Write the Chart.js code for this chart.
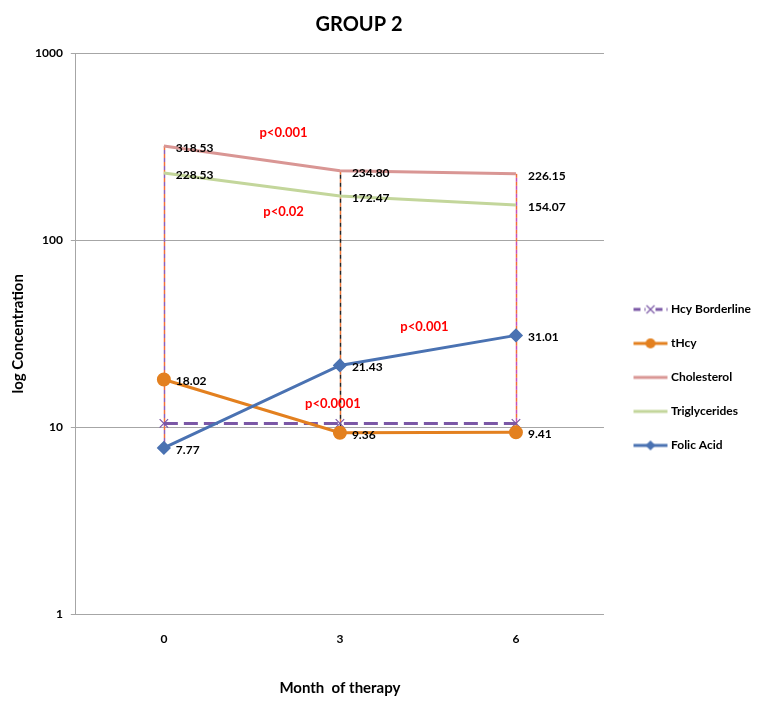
<!DOCTYPE html>
<html>
<head>
<meta charset="utf-8">
<script src="https://cdn.jsdelivr.net/npm/chart.js@4.4.1/dist/chart.umd.min.js"></script>
<style>
  html, body { margin: 0; padding: 0; background: #ffffff; }
  #wrap { width: 772px; height: 712px; }
</style>
</head>
<body>
<div id="wrap"><canvas id="grafica" width="772" height="712"></canvas></div>
<script>
// datos
const meses = ['0', '3', '6'];
const hcyBorderline = [10.5, 10.5, 10.5];
const tHcy = [18.02, 9.36, 9.41];
const colesterol = [318.53, 234.80, 226.15];
const trigliceridos = [228.53, 172.47, 154.07];
const acidoFolico = [7.77, 21.43, 31.01];
const ticksY = [1, 10, 100, 1000];

// notas de significancia (en coordenadas de los datos)
const notasTexto = ['p<0.001', 'p<0.02', 'p<0.0001', 'p<0.001'];
const notasMes = [0.68, 0.68, 0.96, 1.48];
const notasValor = [373, 141, 13.3, 34.3];

const FUENTE = 'Lato, "Open Sans", sans-serif';

// muestra de linea + marcador para la leyenda
// (lienzo de 46px, la linea ocupa de 11 a 45 porque se dibuja centrado en la caja de 39px)
function muestraLeyenda(color, dash, marcador) {
  const c = document.createElement('canvas');
  c.width = 46;
  c.height = 14;
  const g = c.getContext('2d');
  const x0 = 11, x1 = 45, cx = 28;
  g.strokeStyle = color;
  g.lineWidth = 3;
  g.setLineDash(dash);
  g.beginPath();
  g.moveTo(x0, 7);
  g.lineTo(x1, 7);
  g.stroke();
  g.setLineDash([]);
  g.fillStyle = color;
  if (marcador === 'circle') {
    g.beginPath();
    g.arc(cx, 7, 5, 0, Math.PI * 2);
    g.fill();
  } else if (marcador === 'rectRot') {
    g.beginPath();
    g.moveTo(cx, 2); g.lineTo(cx + 5, 7); g.lineTo(cx, 12); g.lineTo(cx - 5, 7);
    g.closePath();
    g.fill();
  } else if (marcador === 'crossRot') {
    g.clearRect(cx - 5, 0, 10, 14);
    g.lineWidth = 1.2;
    g.beginPath();
    g.moveTo(cx - 4, 3); g.lineTo(cx + 4, 11);
    g.moveTo(cx + 4, 3); g.lineTo(cx - 4, 11);
    g.stroke();
  }
  return c;
}

const lineasCaida = {
  id: 'lineasCaida',
  beforeDatasetsDraw(chart) {
    const { ctx, scales: { x, y } } = chart;
    const colores1 = ['#f0703c', '#f07838', '#f07038'];
    const colores2 = ['#9060b8', '#222222', '#c850b8'];
    meses.forEach((m, i) => {
      const vals = chart.data.datasets.map(d => d.data[i]);
      const px = Math.round(x.getPixelForValue(i)) + 0.5;
      const yTop = y.getPixelForValue(Math.max(...vals));
      const yBot = y.getPixelForValue(Math.min(...vals));
      ctx.save();
      ctx.lineWidth = 1.5;
      ctx.setLineDash([4, 4]);
      ctx.strokeStyle = colores1[i];
      ctx.beginPath();
      ctx.moveTo(px, yTop);
      ctx.lineTo(px, yBot);
      ctx.stroke();
      ctx.lineDashOffset = 4;
      ctx.strokeStyle = colores2[i];
      ctx.beginPath();
      ctx.moveTo(px, yTop);
      ctx.lineTo(px, yBot);
      ctx.stroke();
      ctx.restore();
    });
  }
};

const etiquetas = {
  id: 'etiquetas',
  afterDatasetsDraw(chart) {
    const { ctx, scales: { x, y } } = chart;
    ctx.save();
    ctx.font = 'bold 12px ' + FUENTE;
    ctx.fillStyle = '#000000';
    ctx.textAlign = 'left';
    ctx.textBaseline = 'middle';
    chart.data.datasets.forEach((ds, di) => {
      if (!ds.conEtiquetas) return;
      chart.getDatasetMeta(di).data.forEach((pt, i) => {
        ctx.fillText(ds.data[i].toFixed(2), pt.x + 12, pt.y + 2);
      });
    });
    // notas p
    ctx.font = 'bold 13px ' + FUENTE;
    ctx.fillStyle = '#ff0000';
    ctx.textAlign = 'center';
    notasTexto.forEach((t, i) => {
      ctx.fillText(t, x.getPixelForValue(notasMes[i]), y.getPixelForValue(notasValor[i]));
    });
    // titulo
    ctx.font = 'bold 20px ' + FUENTE;
    ctx.fillStyle = '#000000';
    ctx.fillText('GROUP 2', 359, 25);
    ctx.restore();
  }
};

const ctx = document.getElementById('grafica').getContext('2d');
new Chart(ctx, {
  type: 'line',
  data: {
    labels: meses,
    datasets: [
      {
        label: 'Hcy Borderline',
        data: hcyBorderline,
        borderColor: '#7b58a6',
        backgroundColor: '#7b58a6',
        borderWidth: 3,
        borderDash: [14, 6],
        pointStyle: 'crossRot',
        pointRadius: 6,
        pointBorderWidth: 1.2,
        order: 4,
        muestra: muestraLeyenda('#7b58a6', [7, 4], 'crossRot')
      },
      {
        label: 'tHcy',
        data: tHcy,
        borderColor: '#e3801f',
        backgroundColor: '#e3801f',
        borderWidth: 3,
        pointStyle: 'circle',
        pointRadius: 5.5,
        order: 3,
        conEtiquetas: true,
        muestra: muestraLeyenda('#e3801f', [], 'circle')
      },
      {
        label: 'Cholesterol',
        data: colesterol,
        borderColor: '#d99694',
        backgroundColor: '#d99694',
        borderWidth: 3,
        pointRadius: 0,
        order: 2,
        conEtiquetas: true,
        muestra: muestraLeyenda('#d99694', [], null)
      },
      {
        label: 'Triglycerides',
        data: trigliceridos,
        borderColor: '#c3d69b',
        backgroundColor: '#c3d69b',
        borderWidth: 3,
        pointRadius: 0,
        order: 1,
        conEtiquetas: true,
        muestra: muestraLeyenda('#c3d69b', [], null)
      },
      {
        label: 'Folic Acid',
        data: acidoFolico,
        borderColor: '#4a72b2',
        backgroundColor: '#4a72b2',
        borderWidth: 3,
        pointStyle: 'rectRot',
        pointRadius: 5,
        order: 0,
        conEtiquetas: true,
        muestra: muestraLeyenda('#4a72b2', [], 'rectRot')
      }
    ]
  },
  options: {
    responsive: false,
    animation: false,
    devicePixelRatio: 1,
    tension: 0,
    layout: { padding: { top: 53, left: 9, right: 11, bottom: 15 } },
    scales: {
      x: {
        offset: true,
        grid: { display: false, drawTicks: false },
        border: { display: false },
        ticks: {
          padding: 17,
          color: '#000000',
          font: { family: FUENTE, size: 12, weight: 'bold' }
        },
        title: {
          display: true,
          text: 'Month  of therapy',
          color: '#000000',
          font: { family: FUENTE, size: 15, weight: 'bold' },
          padding: { top: 16, bottom: 0 }
        }
      },
      y: {
        type: 'logarithmic',
        min: 1,
        max: 1000,
        afterBuildTicks: (eje) => { eje.ticks = ticksY.map(v => ({ value: v })); },
        grid: { color: '#a6a6a6', lineWidth: 1, tickLength: 5 },
        border: { color: '#a6a6a6' },
        ticks: {
          padding: 8,
          color: '#000000',
          font: { family: FUENTE, size: 12, weight: 'bold' },
          callback: (v) => String(v)
        },
        title: {
          display: true,
          text: 'log Concentration',
          color: '#000000',
          font: { family: FUENTE, size: 15, weight: 'bold' },
          padding: { top: 0, bottom: 0 }
        }
      }
    },
    plugins: {
      title: { display: false },
      tooltip: { enabled: false },
      legend: {
        position: 'right',
        align: 'start',
        fullSize: false,
        title: { display: true, text: ' ', padding: { top: 114, bottom: 100 } },
        labels: {
          usePointStyle: true,
          pointStyleWidth: 39,
          padding: 22,
          color: '#000000',
          font: { family: FUENTE, size: 12, weight: 'bold' },
          sort: (a, b) => a.datasetIndex - b.datasetIndex,
          generateLabels: (chart) => chart.data.datasets.map((ds, i) => ({
            text: ds.label,
            fontColor: '#000000',
            pointStyle: ds.muestra,
            fillStyle: ds.borderColor,
            strokeStyle: ds.borderColor,
            lineWidth: 0,
            hidden: false,
            datasetIndex: i
          }))
        }
      }
    }
  },
  plugins: [lineasCaida, etiquetas]
});
</script>
</body>
</html>
